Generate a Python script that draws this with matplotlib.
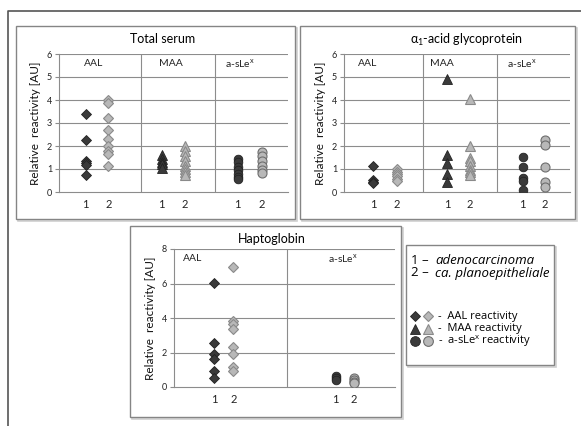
import matplotlib
matplotlib.use("Agg")
import matplotlib.pyplot as plt
from matplotlib.patches import Rectangle

plt.rcParams['font.family'] = ['Lato', 'DejaVu Sans']

# --- data: relative reactivity [AU] per panel / lectin / group (1, 2) ---
serum_aal_1 = [3.37, 2.28, 1.35, 1.25, 1.17, 0.73]
serum_aal_2 = [4.0, 3.85, 3.2, 2.7, 2.3, 2.0, 1.77, 1.65, 1.13]
serum_maa_1 = [1.6, 1.45, 1.3, 1.2, 1.05]
serum_maa_2 = [2.0, 1.8, 1.55, 1.35, 1.15, 1.0, 0.85, 0.72]
serum_slex_1 = [1.45, 1.3, 1.1, 0.95, 0.8, 0.65, 0.57]
serum_slex_2 = [1.72, 1.55, 1.35, 1.15, 0.95, 0.82]

agp_aal_1 = [1.14, 0.54, 0.45, 0.39]
agp_aal_2 = [0.98, 0.88, 0.78, 0.68, 0.58, 0.5]
agp_maa_1 = [4.9, 1.6, 1.25, 0.8, 0.45]
agp_maa_2 = [4.05, 2.0, 1.5, 1.35, 1.15, 0.95, 0.85, 0.75]
agp_slex_1 = [1.52, 1.1, 0.6, 0.5, 0.1]
agp_slex_2 = [2.28, 2.05, 1.07, 0.42, 0.2]

hp_aal_1 = [6.05, 2.55, 1.93, 1.6, 0.9, 0.52]
hp_aal_2 = [6.95, 3.85, 3.65, 3.38, 2.32, 1.9, 1.16, 0.93]
hp_slex_1 = [0.62, 0.5, 0.4]
hp_slex_2 = [0.52, 0.4, 0.3, 0.22]

group_ticks = ['1', '2']
slex_label = 'a-sLe$^\\mathregular{x}$'

# --- styles ---
W, H = 581, 426
DARK = '#3a3a3a'
DARK_EDGE = '#222222'
LIGHT = '#b8b8b8'
LIGHT_EDGE = '#8a8a8a'
GRID = '#8c8c8c'
styles = {
    'D1': dict(marker='D', ms=5.0, mfc=DARK, mec=DARK_EDGE, mew=0.6),
    'D2': dict(marker='D', ms=5.6, mfc=LIGHT, mec=LIGHT_EDGE, mew=0.8),
    'T1': dict(marker='^', ms=6.5, mfc=DARK, mec=DARK_EDGE, mew=0.6),
    'T2': dict(marker='^', ms=7.0, mfc=LIGHT, mec=LIGHT_EDGE, mew=0.8),
    'O1': dict(marker='o', ms=6.2, mfc=DARK, mec=DARK_EDGE, mew=0.6),
    'O2': dict(marker='o', ms=6.5, mfc=LIGHT, mec='#6e6e6e', mew=0.8),
}
legend_ms = {'D': 5.4, '^': 7.2, 'o': 7.0}


def px_rect(x0, y0, x1, y1):
    return [x0 / W, 1 - y1 / H, (x1 - x0) / W, (y1 - y0) / H]


fig = plt.figure(figsize=(W / 100, H / 100), dpi=100)

# overlay in pixel coordinates for frames, titles, legend
ov = fig.add_axes([0, 0, 1, 1], zorder=-1)
ov.set_xlim(0, W)
ov.set_ylim(H, 0)
ov.axis('off')

ov.plot([8, 8, W + 5], [H + 5, 11, 11], color='#555555', lw=1.2)
for (x0, y0, x1, y1) in [(16, 26, 295, 219), (300, 26, 575, 219),
                         (130, 226, 401, 417), (406, 245, 554, 365)]:
    ov.add_patch(Rectangle((x0 + 1.5, y0 + 1.5), x1 - x0, y1 - y0,
                           fc='none', ec='#d0d0d0', lw=1.2))
    ov.add_patch(Rectangle((x0, y0), x1 - x0, y1 - y0,
                           fc='white', ec='#858585', lw=1.0))


def panel(rect, xlim, ylim, yticks, seps, series, xpos, labels, lab_x, lab_y):
    ax = fig.add_axes(rect)
    ax.set_facecolor('none')
    ax.set_xlim(*xlim)
    ax.set_ylim(*ylim)
    ax.set_yticks(yticks)
    for y in yticks[1:]:
        ax.axhline(y, color=GRID, lw=0.8, zorder=1)
    for s in seps:
        ax.axvline(s, color=GRID, lw=0.8, zorder=1)
    for (vals, key), x in zip(series, xpos):
        ax.plot([x] * len(vals), vals, ls='none', zorder=3, **styles[key])
    ax.set_xticks(xpos, group_ticks * (len(xpos) // 2))
    ax.tick_params(axis='x', length=0, labelsize=8, pad=5, colors='#222222')
    ax.tick_params(axis='y', length=3, width=0.8, color=GRID,
                   labelsize=6.5, pad=2, colors='#222222')
    for side in ['top', 'right']:
        ax.spines[side].set_visible(False)
    for side in ['left', 'bottom']:
        ax.spines[side].set_color(GRID)
        ax.spines[side].set_linewidth(0.8)
    ax.set_ylabel('Relative  reactivity [AU]', fontsize=8.5, labelpad=4,
                  color='#111111')
    for t, x in zip(labels, lab_x):
        ax.text(x, lab_y, t, ha='center', va='center', fontsize=7.5,
                color='#222222')
    return ax


# Total serum
panel(px_rect(59, 54, 288, 192), (0, 9), (0, 6), range(0, 7), [3.23, 6.15],
      [(serum_aal_1, 'D1'), (serum_aal_2, 'D2'), (serum_maa_1, 'T1'),
       (serum_maa_2, 'T2'), (serum_slex_1, 'O1'), (serum_slex_2, 'O2')],
      [1.05, 1.94, 4.04, 4.95, 7.02, 7.97],
      ['AAL', 'MAA', slex_label], [1.35, 4.4, 7.1], 5.6)
ov.text(163, 39, 'Total serum', ha='center', va='center', fontsize=9)

# alpha1-acid glycoprotein
panel(px_rect(344, 54, 570, 192), (0, 9), (0, 6), range(0, 7), [3.16, 6.08],
      [(agp_aal_1, 'D1'), (agp_aal_2, 'D2'), (agp_maa_1, 'T1'),
       (agp_maa_2, 'T2'), (agp_slex_1, 'O1'), (agp_slex_2, 'O2')],
      [1.17, 2.1, 4.11, 5.02, 7.12, 8.0],
      ['AAL', 'MAA', slex_label], [0.95, 3.9, 7.1], 5.6)
ov.text(466, 40, '\u03b1$_\\mathregular{1}$-acid glycoprotein',
        ha='center', va='center', fontsize=9)

# Haptoglobin
panel(px_rect(174, 249, 395, 387), (0, 6), (0, 8), range(0, 9, 2), [3.06],
      [(hp_aal_1, 'D1'), (hp_aal_2, 'D2'), (hp_slex_1, 'O1'),
       (hp_slex_2, 'O2')],
      [1.09, 1.61, 4.39, 4.89],
      ['AAL', slex_label], [0.5, 4.6], 7.45)
ov.text(272, 239, 'Haptoglobin', ha='center', va='center', fontsize=9)

# legend box
LEG_FONT = ['Open Sans', 'DejaVu Sans']
ov.text(411, 260, '1 \u2013', ha='left', va='center', fontsize=9.5,
        family=LEG_FONT)
ov.text(435, 260, 'adenocarcinoma', ha='left', va='center', fontsize=9.5,
        style='italic', family=LEG_FONT)
ov.text(411, 273, '2 \u2013', ha='left', va='center', fontsize=9.5,
        family=LEG_FONT)
ov.text(435, 273, 'ca. planoepitheliale', ha='left', va='center',
        fontsize=9.5, style='italic', family=LEG_FONT)
leg_rows = [('D1', 'D2', 316, '-  AAL reactivity'),
            ('T1', 'T2', 329, '-  MAA reactivity'),
            ('O1', 'O2', 341, '-  a-sLe$^\\mathregular{x}$ reactivity')]
for k1, k2, y, txt in leg_rows:
    s1 = dict(styles[k1], ms=legend_ms[styles[k1]['marker']])
    s2 = dict(styles[k2], ms=legend_ms[styles[k2]['marker']])
    ov.plot([415], [y], ls='none', **s1)
    ov.plot([428], [y], ls='none', **s2)
    ov.text(438, y, txt, ha='left', va='center', fontsize=8,
            family=LEG_FONT)

fig.savefig('out.png', dpi=100)
